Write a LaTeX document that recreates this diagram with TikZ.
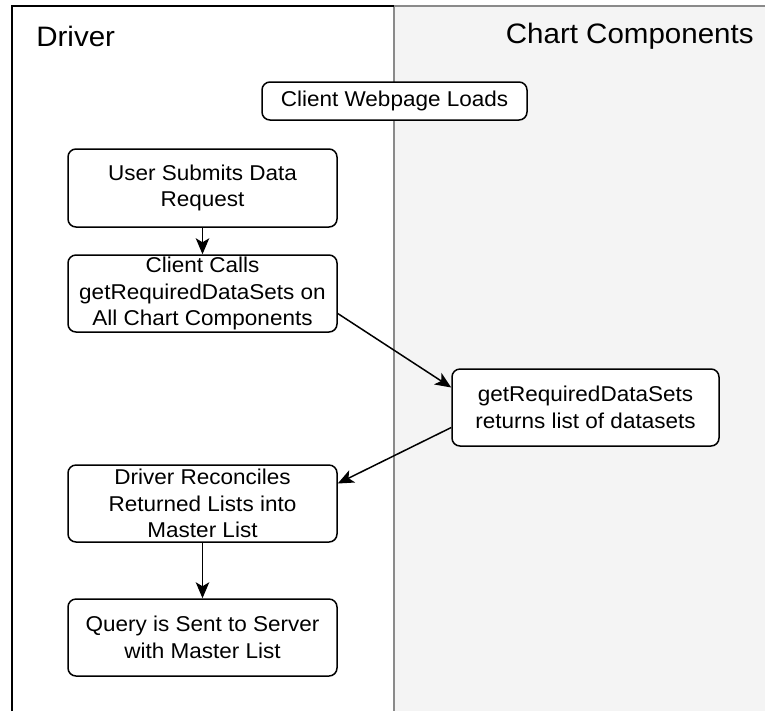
\documentclass[tikz,border=0pt]{standalone}
\usepackage{fontspec}
\setmainfont{Liberation Sans}[FakeStretch=1.05]
\usetikzlibrary{arrows.meta}
\definecolor{lanefill}{HTML}{F4F4F4}
\definecolor{laneline}{HTML}{8A8A8A}

\begin{document}
\begin{tikzpicture}[
    every node/.style={black},
    stepbox/.style={draw, rounded corners=0.16cm, line width=0.03cm, fill=white,
        minimum width=5.38cm, minimum height=1.54cm, inner sep=0pt, align=center,
        font=\fontsize{12.2pt}{15pt}\selectfont},
    flow/.style={-{Stealth[length=0.32cm,width=0.27cm,inset=0.08cm]}, line width=0.03cm},
    lanetitle/.style={inner sep=0pt, font=\fontsize{16pt}{19pt}\selectfont}
    ]
    \useasboundingbox (0,0) rectangle (15.3,-14.22);

    % lanes
    \fill[lanefill] (7.88,-0.12) rectangle (15.3,-14.22);
    \draw[laneline,line width=0.04cm] (15.3,-0.12) -- (7.88,-0.12) -- (7.88,-14.22);
    \draw[line width=0.04cm] (0.24,-14.22) -- (0.24,-0.12) -- (7.88,-0.12);
    \node[lanetitle,anchor=west] (drivertitle) at (0.72,-0.73) {Driver};
    \node[lanetitle,anchor=east] (charttitle) at (15.08,-0.73) {Chart Components};

    % steps
    \node[stepbox,minimum width=5.3cm,minimum height=0.76cm] (load) at (7.89,-2.02) {Client Webpage Loads};
    \node[stepbox,minimum height=1.56cm] (user) at (4.05,-3.76) {User Submits Data\\Request};
    \node[stepbox] (calls) at (4.05,-5.87) {Client Calls\\getRequiredDataSets on\\All Chart Components};
    \node[stepbox,minimum width=5.34cm] (get) at (11.71,-8.15) {getRequiredDataSets\\returns list of datasets};
    \node[stepbox] (recon) at (4.05,-10.07) {Driver Reconciles\\Returned Lists into\\Master List};
    \node[stepbox] (query) at (4.05,-12.75) {Query is Sent to Server\\with Master List};

    \draw[flow] (user) -- (calls);
    \draw[flow] ([yshift=-0.4cm]calls.east) -- ([yshift=0.4cm]get.west);
    \draw[flow] ([yshift=-0.4cm]get.west) -- ([yshift=0.4cm]recon.east);
    \draw[flow] (recon) -- (query);
\end{tikzpicture}
\end{document}
